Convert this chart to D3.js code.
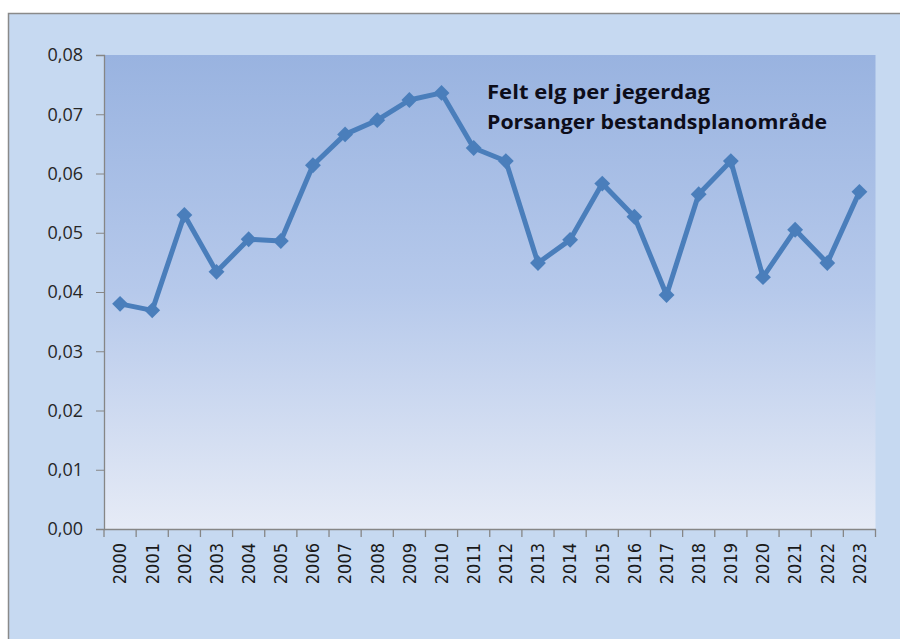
<!DOCTYPE html>
<html>
<head>
<meta charset="utf-8">
<script src="https://cdn.jsdelivr.net/npm/d3@7"></script>
<style>
  body { margin: 0; background: #ffffff; }
  svg { display: block; }
</style>
</head>
<body>
<div id="chart"></div>
<script>
"use strict";

var WIDTH = 900;
var HEIGHT = 639;

// Data
var years = ["2000","2001","2002","2003","2004","2005","2006","2007","2008","2009","2010","2011",
             "2012","2013","2014","2015","2016","2017","2018","2019","2020","2021","2022","2023"];
var feltPerDag = [0.0380, 0.0369, 0.0530, 0.0434, 0.0489, 0.0486, 0.0614, 0.0666, 0.0690, 0.0724, 0.0736, 0.0643,
                  0.0621, 0.0449, 0.0488, 0.0583, 0.0527, 0.0395, 0.0565, 0.0621, 0.0425, 0.0505, 0.0449, 0.0569];
var yTicks = [0, 0.01, 0.02, 0.03, 0.04, 0.05, 0.06, 0.07, 0.08];
var titleLines = ["Felt elg per jegerdag", "Porsanger bestandsplanområde"];

var plotLeft = 104, plotRight = 875.5, plotTop = 55, plotBottom = 529;

var svg = d3.select("#chart").append("svg")
    .attr("width", WIDTH)
    .attr("height", HEIGHT);

var defs = svg.append("defs");
var grad = defs.append("linearGradient")
    .attr("id", "plotGrad")
    .attr("x1", 0).attr("y1", 0).attr("x2", 0).attr("y2", 1);
grad.append("stop").attr("offset", "0%").attr("stop-color", "#99b3e0");
grad.append("stop").attr("offset", "50%").attr("stop-color", "#b6c9eb");
grad.append("stop").attr("offset", "100%").attr("stop-color", "#e6ebf6");

// Outer chart area
svg.append("rect")
    .attr("x", 8.5).attr("y", 13.5)
    .attr("width", WIDTH).attr("height", HEIGHT)
    .attr("fill", "#c6d9f1")
    .attr("stroke", "#8a8a8a")
    .attr("stroke-width", 1.5);

// Plot area
svg.append("rect")
    .attr("x", plotLeft).attr("y", plotTop)
    .attr("width", plotRight - plotLeft).attr("height", plotBottom - plotTop)
    .attr("fill", "url(#plotGrad)");

var x = d3.scaleBand().domain(years).range([plotLeft, plotRight]);
var y = d3.scaleLinear().domain([0, 0.08]).range([plotBottom, plotTop]);

// Y axis
var yAxis = svg.append("g")
    .attr("transform", "translate(" + plotLeft + ",0)")
    .call(d3.axisLeft(y).tickValues(yTicks).tickSize(8).tickPadding(13)
        .tickFormat(function (d) { return d3.format(".2f")(d).replace(".", ","); }));
yAxis.select(".domain").attr("stroke", "#868686").attr("stroke-width", 1.3);
yAxis.selectAll(".tick line").attr("stroke", "#868686");
yAxis.selectAll("text")
    .attr("fill", "#262626")
    .style("font-family", "'Open Sans', sans-serif")
    .style("font-size", "18px");

// X axis
var xAxis = svg.append("g")
    .attr("transform", "translate(0," + plotBottom + ")")
    .call(d3.axisBottom(x).tickSize(0).tickPadding(0));
xAxis.select(".domain").attr("stroke", "#868686").attr("stroke-width", 1.3);
xAxis.selectAll("text")
    .attr("fill", "#1a1a1a")
    .attr("transform", "rotate(-90)")
    .attr("text-anchor", "end")
    .attr("x", -14)
    .attr("y", 0)
    .attr("dy", "0.35em")
    .style("font-family", "'DejaVu Sans Condensed', 'DejaVu Sans', sans-serif")
    .style("font-size", "18px");

// Category boundary ticks
var bounds = years.map(function (d) { return x(d); }).concat([plotRight]);
svg.append("g").selectAll("line")
    .data(bounds)
    .enter().append("line")
    .attr("x1", function (d) { return d; })
    .attr("x2", function (d) { return d; })
    .attr("y1", plotBottom)
    .attr("y2", plotBottom + 8)
    .attr("stroke", "#868686")
    .attr("stroke-width", 1.3);

// Line
var pts = years.map(function (yr, i) { return { year: yr, value: feltPerDag[i] }; });
var line = d3.line()
    .x(function (d) { return x(d.year) + x.bandwidth() / 2; })
    .y(function (d) { return y(d.value); });

svg.append("path")
    .datum(pts)
    .attr("d", line)
    .attr("fill", "none")
    .attr("stroke", "#4a7ebb")
    .attr("stroke-width", 5)
    .attr("stroke-linejoin", "round");

// Diamond markers
svg.append("g").selectAll("path")
    .data(pts)
    .enter().append("path")
    .attr("d", d3.symbol().type(d3.symbolDiamond2).size(160))
    .attr("transform", function (d) {
        return "translate(" + (x(d.year) + x.bandwidth() / 2) + "," + y(d.value) + ")";
    })
    .attr("fill", "#4a7ebb");

// Title
svg.append("g").selectAll("text")
    .data(titleLines)
    .enter().append("text")
    .attr("x", 487)
    .attr("y", function (d, i) { return 99 + i * 30; })
    .attr("fill", "#0d0d1a")
    .style("font-family", "'Open Sans', sans-serif")
    .style("font-weight", "bold")
    .style("font-size", "20px")
    .attr("textLength", function (d, i) { return i === 0 ? 223 : 340; })
    .attr("lengthAdjust", "spacingAndGlyphs")
    .text(function (d) { return d; });
</script>
</body>
</html>
